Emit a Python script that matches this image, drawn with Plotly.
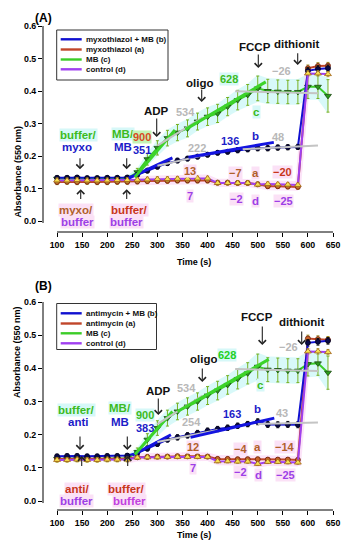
import plotly.graph_objects as go

W, H = 348, 550
FONT = "Liberation Sans, Arial, sans-serif"

# ---------------- data ----------------
time = [100, 120, 140, 160, 180, 200, 220, 240, 260, 280, 300, 320, 340, 360,
        380, 400, 420, 440, 460, 480, 500, 520, 540, 560, 580, 600, 620, 640]
x_ticks = [100, 150, 200, 250, 300, 350, 400, 450, 500, 550, 600, 650]
y_ticks = [0.0, 0.1, 0.2, 0.3, 0.4, 0.5, 0.6]

# Panel A (myxothiazol)
A_b = [0.133, 0.133, 0.134, 0.132, 0.132, 0.133, 0.133, 0.134, 0.142, 0.155, 0.167, 0.178, 0.186, 0.192,
       0.198, 0.204, 0.210, 0.213, 0.218, 0.221, 0.224, 0.224, 0.226, 0.227, 0.228, 0.462, 0.468, 0.470]
A_b_err = [0.006, 0.006, 0.006, 0.006, 0.006, 0.006, 0.006, 0.006, 0.007, 0.007, 0.007, 0.007, 0.007, 0.007,
           0.007, 0.007, 0.007, 0.007, 0.008, 0.008, 0.008, 0.008, 0.008, 0.008, 0.008, 0.010, 0.010, 0.010]
A_a = [0.120, 0.121, 0.120, 0.121, 0.120, 0.120, 0.121, 0.121, 0.122, 0.123, 0.124, 0.124, 0.125, 0.125,
       0.125, 0.125, 0.118, 0.118, 0.117, 0.117, 0.113, 0.107, 0.107, 0.106, 0.105, 0.470, 0.477, 0.478]
A_a_err = [0.008, 0.008, 0.008, 0.008, 0.008, 0.008, 0.008, 0.008, 0.008, 0.008, 0.008, 0.008, 0.008, 0.008,
           0.008, 0.008, 0.007, 0.007, 0.007, 0.007, 0.007, 0.007, 0.007, 0.007, 0.007, 0.010, 0.010, 0.010]
A_c = [0.130, 0.130, 0.131, 0.129, 0.130, 0.130, 0.130, 0.131, 0.150, 0.190, 0.225, 0.255, 0.272, 0.285,
       0.306, 0.321, 0.331, 0.352, 0.372, 0.388, 0.408, 0.400, 0.398, 0.397, 0.397, 0.413, 0.413, 0.385]
A_c_err = [0.008, 0.008, 0.008, 0.008, 0.008, 0.008, 0.008, 0.008, 0.012, 0.018, 0.022, 0.024, 0.025, 0.026,
           0.026, 0.027, 0.028, 0.028, 0.030, 0.032, 0.038, 0.036, 0.036, 0.036, 0.036, 0.036, 0.036, 0.050]
A_d = [0.125, 0.125, 0.126, 0.125, 0.125, 0.125, 0.126, 0.126, 0.127, 0.128, 0.129, 0.129, 0.130, 0.130,
       0.131, 0.131, 0.117, 0.117, 0.117, 0.117, 0.112, 0.114, 0.113, 0.112, 0.111, 0.454, 0.454, 0.452]
A_d_err = [0.007, 0.007, 0.007, 0.007, 0.007, 0.007, 0.007, 0.007, 0.007, 0.007, 0.007, 0.007, 0.007, 0.007,
           0.007, 0.007, 0.006, 0.006, 0.006, 0.006, 0.006, 0.006, 0.006, 0.006, 0.006, 0.008, 0.008, 0.008]

# Panel B (antimycin)
B_b = [0.135, 0.136, 0.136, 0.135, 0.135, 0.136, 0.136, 0.137, 0.145, 0.158, 0.172, 0.185, 0.192, 0.198,
       0.205, 0.212, 0.217, 0.221, 0.227, 0.232, 0.239, 0.231, 0.230, 0.231, 0.230, 0.477, 0.480, 0.483]
B_b_err = [0.006, 0.006, 0.006, 0.006, 0.006, 0.006, 0.006, 0.006, 0.007, 0.007, 0.007, 0.007, 0.008, 0.008,
           0.008, 0.008, 0.008, 0.008, 0.008, 0.008, 0.009, 0.009, 0.009, 0.009, 0.009, 0.010, 0.010, 0.010]
B_a = [0.127, 0.127, 0.128, 0.127, 0.127, 0.128, 0.128, 0.128, 0.132, 0.133, 0.134, 0.134, 0.135, 0.135,
       0.135, 0.134, 0.127, 0.127, 0.126, 0.126, 0.126, 0.125, 0.125, 0.125, 0.124, 0.490, 0.488, 0.486]
B_a_err = [0.008, 0.008, 0.008, 0.008, 0.008, 0.008, 0.008, 0.008, 0.006, 0.006, 0.006, 0.006, 0.006, 0.006,
           0.006, 0.006, 0.006, 0.006, 0.006, 0.006, 0.006, 0.006, 0.006, 0.006, 0.006, 0.010, 0.010, 0.010]
B_c = [0.127, 0.128, 0.128, 0.127, 0.127, 0.128, 0.128, 0.129, 0.148, 0.185, 0.220, 0.250, 0.270, 0.285,
       0.300, 0.318, 0.333, 0.350, 0.368, 0.385, 0.405, 0.396, 0.395, 0.393, 0.393, 0.413, 0.415, 0.387]
B_c_err = [0.008, 0.008, 0.008, 0.008, 0.008, 0.008, 0.008, 0.008, 0.012, 0.018, 0.022, 0.024, 0.025, 0.026,
           0.026, 0.027, 0.028, 0.028, 0.030, 0.032, 0.038, 0.036, 0.036, 0.036, 0.036, 0.036, 0.036, 0.050]
B_d = [0.124, 0.124, 0.125, 0.124, 0.124, 0.125, 0.125, 0.125, 0.131, 0.132, 0.132, 0.133, 0.133, 0.133,
       0.133, 0.133, 0.120, 0.120, 0.119, 0.119, 0.112, 0.118, 0.118, 0.117, 0.116, 0.451, 0.451, 0.449]
B_d_err = [0.007, 0.007, 0.007, 0.007, 0.007, 0.007, 0.007, 0.007, 0.005, 0.005, 0.005, 0.005, 0.005, 0.005,
           0.005, 0.005, 0.005, 0.005, 0.005, 0.005, 0.005, 0.005, 0.005, 0.005, 0.005, 0.008, 0.008, 0.008]

# regression segments (x start/end, y start/end), kind
A_fit_x = [[243, 330], [300, 420], [362, 532], [470, 620], [255, 335], [300, 390], [356, 516], [455, 620]]
A_fit_y = [[0.132, 0.194], [0.170, 0.212], [0.196, 0.242], [0.221, 0.232],
           [0.135, 0.280], [0.232, 0.318], [0.282, 0.428], [0.399, 0.393]]
B_fit_x = [[250, 327], [300, 420], [366, 533], [500, 620], [255, 330], [300, 390], [340, 522], [455, 620]]
B_fit_y = [[0.138, 0.200], [0.178, 0.214], [0.192, 0.250], [0.232, 0.237],
           [0.140, 0.270], [0.232, 0.318], [0.270, 0.427], [0.398, 0.392]]
fit_kind = ["b", "gray", "b", "gray", "c", "gray", "c", "gray"]

A_legend = ["myxothiazol + MB (b)", "myxothiazol (a)", "MB (c)", "control (d)"]
B_legend = ["antimycin + MB (b)", "antimycin (a)", "MB (c)", "control (d)"]

# ---------------- geometry ----------------
XL_PX, XR_PX = 43, 333
X_RANGE = [72, 650]
PAN = {
    "A": dict(top=26, bot=232, yr=[-0.0338, 0.6], xa="x", ya="y"),
    "B": dict(top=302, bot=510, yr=[-0.027, 0.6], xa="x2", ya="y2"),
}


def x2px(x):
    return XL_PX + (x - X_RANGE[0]) * (XR_PX - XL_PX) / (X_RANGE[1] - X_RANGE[0])


# ---------------- colors ----------------
GREEN = "#3cbb1e"
BLUE = "#1c1cc8"
GRAY = "#b8b8b8"
BROWN = "#b0602a"
RED = "#c8361a"
PURPLE = "#9d3fe6"
MAGENTA = "#c040e0"
CYAN_BG = "#d6f8f8"
PINK_BG = "#fbe1f6"
PINK_FILL = "rgba(250,212,244,0.65)"

STY = {
    "b": dict(line="#1010d0", sym="circle", mc="#0a0a45", ml="#000020", ec="#111111", size=5),
    "a": dict(line="#c0462a", sym="circle", mc="#c8642a", ml="#6a1a0a", ec="#a08a20", size=5),
    "c": dict(line="#3ccc28", sym="triangle-down", mc="#2a9a1a", ml="#1a4a10", ec="#78b020", size=6),
    "d": dict(line="#a040f0", sym="triangle-up", mc="#f5e050", ml="#a06010", ec="#a89a30", size=6),
}

fig = go.Figure()

panel_data = {
    "A": dict(b=(A_b, A_b_err), a=(A_a, A_a_err), c=(A_c, A_c_err), d=(A_d, A_d_err),
              fx=A_fit_x, fy=A_fit_y, leg=A_legend),
    "B": dict(b=(B_b, B_b_err), a=(B_a, B_a_err), c=(B_c, B_c_err), d=(B_d, B_d_err),
              fx=B_fit_x, fy=B_fit_y, leg=B_legend),
}

shapes = []
annotations = []

for p, dat in panel_data.items():
    g = PAN[p]
    xa, ya = g["xa"], g["ya"]
    c_vals, c_err = dat["c"]
    a_vals = dat["a"][0]
    d_vals = dat["d"][0]
    i0 = time.index(240)
    tt = time[i0:]
    up = [v + e * 1.1 for v, e in zip(c_vals[i0:], c_err[i0:])]
    lo = [v - e * 1.1 for v, e in zip(c_vals[i0:], c_err[i0:])]
    fig.add_trace(go.Scatter(x=tt + tt[::-1], y=up + lo[::-1], fill="toself", mode="lines",
                             line=dict(width=0), fillcolor="rgba(200,246,246,0.7)",
                             hoverinfo="skip", showlegend=False, xaxis=xa, yaxis=ya))
    i1 = time.index(580) + 1
    tt2 = time[i0:i1]
    up2 = [max(u, v) + 0.012 for u, v in zip(a_vals[i0:i1], d_vals[i0:i1])]
    lo2 = [min(u, v) - 0.012 for u, v in zip(a_vals[i0:i1], d_vals[i0:i1])]
    fig.add_trace(go.Scatter(x=tt2 + tt2[::-1], y=up2 + lo2[::-1], fill="toself", mode="lines",
                             line=dict(width=0), fillcolor=PINK_FILL,
                             hoverinfo="skip", showlegend=False, xaxis=xa, yaxis=ya))
    # pink halo along the dithionite jump of the control trace
    j0, j1 = time.index(580), time.index(600)
    jx = [time[j0] - 6, time[j0] + 6, time[j1] + 6, time[j1] - 6]
    jy = [d_vals[j0] - 0.01, d_vals[j0] - 0.01, d_vals[j1] + 0.01, d_vals[j1] + 0.01]
    fig.add_trace(go.Scatter(x=jx, y=jy, fill="toself", mode="lines", line=dict(width=0),
                             fillcolor=PINK_FILL, hoverinfo="skip", showlegend=False,
                             xaxis=xa, yaxis=ya))
    for key in ["c", "a", "b", "d"]:
        vals, errs = dat[key]
        s = STY[key]
        fig.add_trace(go.Scatter(
            x=time, y=vals, mode="lines+markers",
            line=dict(color=s["line"], width=2),
            marker=dict(symbol=s["sym"], size=s["size"], color=s["mc"], line=dict(color=s["ml"], width=0.8)),
            error_y=dict(type="data", array=errs, color=s["ec"], thickness=1, width=1.5),
            showlegend=False, xaxis=xa, yaxis=ya))
    for fx, fy, k in zip(dat["fx"], dat["fy"], fit_kind):
        if k == "gray":
            col, wd = "#c4c4c4", 2
        elif k == "b":
            col, wd = "#1414e0", 3
        else:
            col, wd = "#3cd42a", 3
        fig.add_trace(go.Scatter(x=fx, y=fy, mode="lines", line=dict(color=col, width=wd),
                                 showlegend=False, hoverinfo="skip", xaxis=xa, yaxis=ya))

    shapes.append(dict(type="line", xref="paper", yref="paper",
                       x0=x2px(100) / W, x1=x2px(650) / W,
                       y0=1 - g["bot"] / H, y1=1 - g["bot"] / H, line=dict(color="black", width=1)))
    y0px = g["top"] + (g["yr"][1] - (-0.006)) * (g["bot"] - g["top"]) / (g["yr"][1] - g["yr"][0])
    shapes.append(dict(type="line", xref="paper", yref="paper",
                       x0=XL_PX / W, x1=XL_PX / W,
                       y0=1 - y0px / H, y1=1 - g["top"] / H, line=dict(color="black", width=1)))

# ---------------- manual legends ----------------
LEG = {
    "A": dict(box=(56.7, 30, 168, 80), rows=[39.3, 49.5, 59.5, 69.3]),
    "B": dict(box=(56.7, 303.5, 156.5, 349.5), rows=[313.3, 323.5, 333.3, 343.3]),
}
for p, L in LEG.items():
    x0, y0, x1, y1 = L["box"]
    shapes.append(dict(type="rect", xref="paper", yref="paper", x0=x0 / W, x1=x1 / W,
                       y0=1 - y1 / H, y1=1 - y0 / H, line=dict(color="#333333", width=1),
                       fillcolor="white", layer="above"))
    for key, ry, txt in zip(["b", "a", "c", "d"], L["rows"], panel_data[p]["leg"]):
        s = STY[key]
        shapes.append(dict(type="line", xref="paper", yref="paper", x0=60.7 / W, x1=81.7 / W,
                           y0=1 - ry / H, y1=1 - ry / H, line=dict(color=s["line"], width=2.4),
                           layer="above"))
        annotations.append(dict(x=84 / W, y=1 - ry / H, xref="paper", yref="paper", text="<b>" + txt + "</b>",
                                showarrow=False, xanchor="left", yanchor="middle",
                                font=dict(family=FONT, size=8, color="#111111")))

for p, L in LEG.items():
    for key, ry in zip(["b", "a", "c", "d"], L["rows"]):
        s = STY[key]
        fig.add_trace(go.Scatter(x=[71.2 / W], y=[1 - ry / H], mode="markers",
                                 marker=dict(symbol=s["sym"], size=s["size"], color=s["mc"],
                                             line=dict(color=s["ml"], width=0.8)),
                                 showlegend=False, hoverinfo="skip", xaxis="x3", yaxis="y3",
                                 cliponaxis=False))

# ---------------- text labels ----------------
K = "#111111"
labels = {
    "A": [
        ("buffer/", 78.8, 135, GREEN, CYAN_BG), ("myxo", 76.7, 146.7, BLUE, None),
        ("MB/", 123, 134, GREEN, CYAN_BG), ("MB", 123.3, 147.3, BLUE, None),
        ("900", 141.7, 137, "#d84a22", "#c4f4b4"), ("351", 141.7, 150.3, BLUE, None),
        ("myxo/", 75.7, 210, BROWN, PINK_BG), ("buffer", 77.5, 221.7, PURPLE, PINK_BG),
        ("buffer/", 129, 210, RED, PINK_BG), ("buffer", 126.7, 221.7, PURPLE, PINK_BG),
        ("ADP", 156.7, 110.7, K, None), ("534", 185, 111.7, GRAY, None),
        ("oligo", 199, 82.7, K, None), ("628", 229.3, 79.3, GREEN, CYAN_BG),
        ("c", 256.7, 111.7, GREEN, CYAN_BG), ("FCCP", 255, 46.7, K, None),
        ("dithionit", 296.7, 44.3, K, None), ("−26", 281.7, 70.7, GRAY, None),
        ("222", 196.7, 148.3, GRAY, None), ("136", 230, 141, BLUE, None),
        ("b", 255, 136, BLUE, None), ("48", 278.3, 137.3, GRAY, None),
        ("13", 190, 171, BROWN, PINK_BG), ("7", 190, 195.7, PURPLE, PINK_BG),
        ("−7", 235, 172.7, BROWN, PINK_BG), ("a", 255, 172.7, BROWN, PINK_BG),
        ("−20", 282.7, 171.7, RED, PINK_BG), ("−2", 236.7, 199, PURPLE, PINK_BG),
        ("d", 255, 201, PURPLE, PINK_BG), ("−25", 283.3, 201, PURPLE, PINK_BG),
    ],
    "B": [
        ("buffer/", 76.7, 410, GREEN, CYAN_BG), ("anti", 78.3, 421.7, BLUE, None),
        ("MB/", 120, 408.3, GREEN, CYAN_BG), ("MB", 120, 421.7, BLUE, None),
        ("900", 145, 415, GREEN, CYAN_BG), ("383", 145, 428.3, BLUE, None),
        ("anti/", 76.7, 489.3, RED, PINK_BG), ("buffer", 76.7, 500.7, PURPLE, PINK_BG),
        ("buffer/", 126.7, 489.3, RED, PINK_BG), ("buffer", 129.3, 500.7, MAGENTA, PINK_BG),
        ("ADP", 158.3, 390.7, K, None), ("534", 186.7, 388.3, GRAY, None),
        ("oligo", 203.3, 359.3, K, None), ("628", 226.7, 355, "#22d022", CYAN_BG),
        ("FCCP", 256.7, 316.7, K, None), ("dithionit", 301.7, 321.7, K, None),
        ("−26", 288.3, 347.3, GRAY, None), ("c", 260, 385, GREEN, CYAN_BG),
        ("254", 191.7, 421.7, GRAY, None), ("163", 231.7, 414, BLUE, None),
        ("b", 257.7, 409.3, BLUE, None), ("43", 281.7, 413.3, GRAY, None),
        ("12", 192.7, 446.7, BROWN, PINK_BG), ("7", 193.3, 468.3, PURPLE, PINK_BG),
        ("−4", 240, 449.3, BROWN, PINK_BG), ("a", 257.7, 446.7, BROWN, PINK_BG),
        ("−14", 285, 447.3, BROWN, PINK_BG), ("−2", 240, 471.7, PURPLE, PINK_BG),
        ("d", 258.3, 475, PURPLE, PINK_BG), ("−25", 285, 475, PURPLE, PINK_BG),
    ],
}
for p, lst in labels.items():
    for txt, px, py, col, bg in lst:
        size = 11.5 if txt.isalpha() or txt.endswith("/") else 11
        ann = dict(x=px / W, y=1 - py / H, xref="paper", yref="paper", text="<b>" + txt + "</b>",
                   showarrow=False, xanchor="center", yanchor="middle",
                   font=dict(family=FONT, size=size, color=col), borderpad=0)
        if bg:
            ann["bgcolor"] = bg
        annotations.append(ann)

arrows = {
    "A": [(80, 169.3, 156.7), (126.7, 169.3, 156.7), (156.7, 137, 117), (201.7, 102, 88),
          (258.3, 68, 53), (297.7, 65, 51.7), (80.7, 189.3, 200.5), (126.7, 189.3, 200.5)],
    "B": [(80, 450, 435), (127.3, 450, 435), (158.3, 415, 397), (202.3, 382, 367),
          (262.3, 345, 325), (301.7, 345, 330), (81.7, 456, 467.5), (127.7, 456, 467.5)],
}
for p, lst in arrows.items():
    for px, tip, tail in lst:
        annotations.append(dict(x=px / W, y=1 - tip / H, xref="paper", yref="paper", text="",
                                showarrow=True, ax=0, ay=tail - tip, arrowhead=4, arrowsize=1.3,
                                arrowwidth=1.1, arrowcolor="#222222"))

for p, (tx, ty, xt_py, yt_py) in {"A": (33, 8.5, 262.3, 123.5), "B": (33.3, 286, 541.7, 400)}.items():
    annotations.append(dict(x=tx / W, y=1 - ty / H, xref="paper", yref="paper", text="<b>(" + p + ")</b>",
                            showarrow=False, font=dict(family=FONT, size=12, color="black")))
    annotations.append(dict(x=194 / W, y=1 - xt_py / H, xref="paper", yref="paper", text="<b>Time (s)</b>",
                            showarrow=False, font=dict(family=FONT, size=9, color="black")))
    annotations.append(dict(x=10 / W, y=1 - yt_py / H, xref="paper", yref="paper",
                            text="<b>Absorbance (550 nm)</b>", textangle=-90,
                            showarrow=False, font=dict(family=FONT, size=9, color="black")))

axis_common = dict(showgrid=False, zeroline=False, showline=False, ticks="outside", ticklen=4,
                   tickwidth=1, tickcolor="black", automargin=False,
                   tickfont=dict(family=FONT, size=8.8, color="black", weight="bold"))

fig.update_layout(
    template="none",
    width=W, height=H, autosize=False,
    margin=dict(l=0, r=0, t=0, b=0, pad=0, autoexpand=False),
    paper_bgcolor="white", plot_bgcolor="rgba(0,0,0,0)",
    showlegend=False,
    font=dict(family=FONT),
    xaxis=dict(domain=[XL_PX / W, XR_PX / W], range=X_RANGE, anchor="y", tickvals=x_ticks, **axis_common),
    yaxis=dict(domain=[1 - PAN["A"]["bot"] / H, 1 - PAN["A"]["top"] / H], range=PAN["A"]["yr"], anchor="x",
               tickvals=y_ticks, tickformat=".1f", **axis_common),
    xaxis2=dict(domain=[XL_PX / W, XR_PX / W], range=X_RANGE, anchor="y2", tickvals=x_ticks, **axis_common),
    yaxis2=dict(domain=[1 - PAN["B"]["bot"] / H, 1 - PAN["B"]["top"] / H], range=PAN["B"]["yr"], anchor="x2",
                tickvals=y_ticks, tickformat=".1f", **axis_common),
    xaxis3=dict(domain=[0, 1], range=[0, 1], visible=False, anchor="y3", automargin=False),
    yaxis3=dict(domain=[0, 1], range=[0, 1], visible=False, anchor="x3", automargin=False),
    shapes=shapes,
    annotations=annotations,
)

fig.write_html(
    "out.html",
    config={"displayModeBar": False, "staticPlot": True},
    post_script="document.body.style.margin='0';document.body.style.padding='0';"
                "document.documentElement.style.overflow='hidden';",
)
